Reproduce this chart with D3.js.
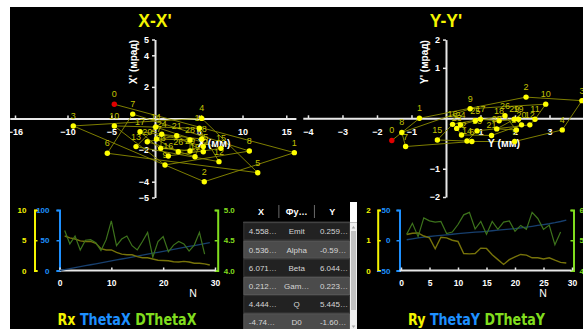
<!DOCTYPE html>
<html>
<head>
<meta charset="utf-8">
<script src="https://cdn.jsdelivr.net/npm/d3@7"></script>
<style>
  html, body { margin: 0; padding: 0; background: #fff; }
  svg { display: block; }
</style>
</head>
<body>
<svg id="chart" width="583" height="329"></svg>
<script>
// ---------- phase-plane trajectory, steps 0..29 ----------
const stepLabels = ["0","1","2","3","4","5","6","7","8","9","10","11","12","13","14",
  "15","16","17","18","19","20","21","22","23","24","25","26","27","28","29"];

// X (mm) and X' (mrad)
const xPos = [-4.65, 15.92, 5.63, -9.34, 5.34, 11.74, -5.45, -2.55, 10.78, 1.14,
  -4.65, 5.06, 7.31, -2.17, 0.08, 7.54, 1.52, -1.71, 5.34, 4.57,
  -0.88, 2.48, 5.52, 0.65, 0.77, 5.52, 2.66, 0.17, 4.00, 4.00];
const xAng = [0.90, -2.16, -4.00, -0.47, 0.01, -3.43, -2.20, 0.28, -2.06, -2.94,
  -0.47, -0.62, -2.73, -1.78, -0.54, -1.89, -2.37, -0.84, -1.30, -2.42,
  -1.47, -1.09, -2.10, -1.89, -1.00, -1.78, -2.10, -1.30, -1.36, -2.06];

// Y (mm) and Y' (mrad)
const yPos = [-1.57, -0.77, 2.32, 3.94, 3.37, 1.99, 0.75, -1.17, -1.28, 0.70,
  2.89, 2.58, 2.43, 0.90, 0.61, -0.25, 0.19, 1.00, 1.54, 2.10,
  2.19, 1.32, 0.45, 0.31, 0.42, 0.85, 1.71, 2.04, 1.47, 1.98];
const yAng = [-0.44, 0.00, 0.42, 0.35, -0.23, -0.46, -0.46, -0.56, -0.28, 0.19,
  0.28, -0.02, -0.13, -0.25, -0.45, -0.43, -0.12, -0.02, -0.05, -0.02,
  -0.13, -0.34, -0.33, -0.20, -0.13, -0.05, 0.05, -0.23, -0.21, -0.02];

// axis ticks of the phase planes
const xPlaneTicks = [-16, -10, -5, 5, 10, 15];
const xPlaneAngTicks = [5, 4, 2, -2, -4, -5];
const yPlaneTicks = [-4, -3, -2, -1, 1, 2, 3];
const yPlaneAngTicks = [1.56, 1, -1, -1.56];

// ---------- per-step parameters ----------
const rx = [5.7, 5.4, 5.2, 4.9, 4.8, 4.8, 4.5, 3.6, 3.4, 3.4, 3.0, 2.7, 2.6, 2.6, 2.3,
  2.1, 2.1, 1.9, 1.7, 1.65, 1.6, 1.45, 1.4, 1.5, 1.4, 1.2, 1.2, 1.1, 0.9];        // N = 1..29
const thetaX = [0, 1.6, 3.2, 4.8, 6.3, 7.9, 9.5, 11.1, 12.7, 14.3, 15.9, 17.4, 19.0, 20.6, 22.2,
  23.8, 25.4, 27.0, 28.6, 30.1, 31.7, 33.3, 34.9, 36.5, 38.1, 39.7, 41.3, 42.8, 44.4, 46.0]; // N = 0..29
const dThetaX = [4.66, 4.44, 4.57, 4.34, 4.50, 4.51, 4.46, 4.33, 4.51, 4.82, 4.41, 4.52, 4.57, 4.41,
  4.34, 4.48, 4.63, 4.22, 4.48, 4.56, 4.31, 4.42, 4.48, 4.44, 4.32, 4.42, 4.63, 4.27]; // N = 1..28

const ry = [1.19, 1.23, 1.24, 1.14, 1.08, 0.72, 1.10, 1.08, 1.00, 0.96, 0.56, 0.55, 0.56, 0.74, 0.73,
  0.52, 0.36, 0.20, 0.36, 0.45, 0.53, 0.51, 0.42, 0.42, 0.38, 0.42, 0.34, 0.27, 0.25];   // N = 1..29
const thetaY = [0.8, 2.3, 3.8, 5.0, 6.2, 7.2, 8.1, 9.0, 9.9, 10.8, 11.7, 12.5, 13.3, 14.0, 14.8,
  15.7, 16.6, 17.5, 18.4, 19.3, 20.5, 21.8, 23.1, 24.5, 25.9, 27.3, 29.0, 31.0, 33.3];  // N = 1..29
const dThetaY = [5.20, 5.56, 5.12, 5.74, 5.64, 5.60, 5.62, 5.22, 5.27, 5.52, 5.84, 5.92, 5.37, 5.62,
  5.20, 5.62, 5.36, 5.60, 5.64, 5.30, 5.49, 5.36, 5.92, 5.72, 5.36, 5.50, 4.85, 5.27]; // N = 1..28

const stepTicks = [0, 10, 20, 30];
const stepTicksFine = [0, 5, 10, 15, 20, 25, 30];
const rxTicks = [0, 5, 10], thetaXTicks = [0, 50, 100], dThetaXTicks = [4.0, 4.5, 5.0];
const ryTicks = [0, 1, 2], thetaYTicks = [-50, 0, 50], dThetaYTicks = [4, 5, 6];

// ---------- Twiss table ----------
const tableHeader = ["X", "Фу…", "Y"];
const tableX = ["4.558…", "0.536…", "6.071…", "0.212…", "4.444…", "-4.74…"];
const tableFn = ["Emit", "Alpha", "Beta", "Gam…", "Q", "D0"];
const tableY = ["0.259…", "-0.59…", "6.044…", "0.223…", "5.445…", "-1.60…"];

// ---------- colours ----------
const C = {
  yellow: "#f4f400", point: "#ffff00", track: "#8c8c00", label: "#c2c200", start: "#e00000",
  axis: "#e8e8e8", blue: "#1e90ff", green: "#80dd1e",
  rLine: "#77730a", tLine: "#173f6e", dLine: "#3d731c"
};
const FONT = "'Liberation Sans', Arial, sans-serif";

const svg = d3.select("#chart");
svg.append("rect").attr("x", 10).attr("y", 7).attr("width", 573).attr("height", 322).attr("fill", "#000");

function styleAxis(a, stroke, textFill, size) {
  a.attr("font-family", FONT);
  a.select(".domain").attr("stroke", stroke).attr("stroke-width", 2);
  a.selectAll(".tick line").attr("stroke", stroke).attr("stroke-width", 1.5);
  a.selectAll(".tick text").attr("fill", textFill).attr("font-weight", "bold")
    .attr("font-size", size).attr("font-family", FONT);
}

// ---------- phase plane ----------
function phasePlane(cfg) {
  const g = svg.append("g");
  const x = d3.scaleLinear().domain(cfg.xDomain).range(cfg.xRange);
  const y = d3.scaleLinear().domain(cfg.yDomain).range(cfg.yRange);
  const x0 = x(0), y0 = y(0);
  const fmt = d3.format(".0f");

  g.append("text").attr("x", x0).attr("y", 27).attr("text-anchor", "middle")
    .attr("font-family", FONT).attr("font-weight", "bold").attr("font-size", 17.5)
    .attr("fill", C.yellow).text(cfg.title);

  const xa = g.append("g").attr("transform", `translate(0,${y0})`)
    .call(d3.axisBottom(x).tickValues(cfg.xTicks).tickFormat(fmt)
      .tickSizeInner(-3).tickSizeOuter(0).tickPadding(10));
  styleAxis(xa, C.axis, "#fff", 9);
  const ya = g.append("g").attr("transform", `translate(${x0},0)`)
    .call(d3.axisLeft(y).tickValues(cfg.yTicks).tickFormat(fmt)
      .tickSizeInner(3).tickSizeOuter(0).tickPadding(3));
  styleAxis(ya, C.axis, "#fff", 9);

  g.append("text")
    .attr("transform", `translate(${x0 - 18},${cfg.yRange[1] + 0.5}) rotate(-90)`)
    .attr("text-anchor", "end").attr("font-family", FONT).attr("font-weight", "bold")
    .attr("font-size", 10).attr("fill", "#fff").text(cfg.yTitle);

  const pts = cfg.xs.map((v, i) => ({ px: x(v), py: y(cfg.ys[i]), label: stepLabels[i], i }));

  g.append("path").datum(pts)
    .attr("d", d3.line().x(d => d.px).y(d => d.py))
    .attr("fill", "none").attr("stroke", C.track).attr("stroke-width", 0.9);

  g.selectAll("text.lbl").data(pts).join("text").attr("class", "lbl")
    .attr("x", d => d.px).attr("y", d => d.py - 7).attr("text-anchor", "middle")
    .attr("font-family", FONT).attr("font-size", 9).attr("fill", C.label)
    .text(d => d.label);

  g.append("text")
    .attr("x", x0 + 0.42 * (cfg.xRange[1] - x0)).attr("y", y0 + 28.5)
    .attr("text-anchor", "middle").attr("font-family", FONT).attr("font-weight", "bold")
    .attr("font-size", 10.5).attr("fill", "#fff").text(cfg.xTitle);

  g.selectAll("circle").data(pts).join("circle")
    .attr("cx", d => d.px).attr("cy", d => d.py).attr("r", 2.7)
    .attr("fill", d => d.i === 0 ? C.start : C.point);
}

phasePlane({
  title: "X-X'", xTitle: "X (мм)", yTitle: "X' (мрад)",
  xs: xPos, ys: xAng,
  xDomain: [-16.6, 16.1], xRange: [9.75, 295.9],
  yDomain: [-5, 5], yRange: [197.5, 39.5],
  xTicks: xPlaneTicks, yTicks: xPlaneAngTicks
});
phasePlane({
  title: "Y-Y'", xTitle: "Y (мм)", yTitle: "Y' (мрад)",
  xs: yPos, ys: yAng,
  xDomain: [-4.15, 4.0], xRange: [302.8, 584],
  yDomain: [-1.56, 1.56], yRange: [197, 39.6],
  xTicks: yPlaneTicks, yTicks: yPlaneAngTicks
});

// ---------- per-step chart ----------
function stepChart(cfg) {
  const g = svg.append("g");
  const x = d3.scaleLinear().domain([0, 30]).range(cfg.xRange);
  const top = 210, bottom = 270.5;
  const yR = d3.scaleLinear().domain(cfg.rDomain).range([bottom, top]);
  const yT = d3.scaleLinear().domain(cfg.tDomain).range([bottom, top]);
  const yD = d3.scaleLinear().domain(cfg.dDomain).range([bottom, top]);

  const ra = g.append("g").attr("transform", `translate(${cfg.rAxisX},0)`)
    .call(d3.axisLeft(yR).tickValues(cfg.rTicks).tickFormat(d3.format("d"))
      .tickSizeInner(-3).tickSizeOuter(-3).tickPadding(cfg.rPad));
  styleAxis(ra, C.yellow, C.yellow, 8);

  const ta = g.append("g").attr("transform", `translate(${cfg.tAxisX},0)`)
    .call(d3.axisLeft(yT).tickValues(cfg.tTicks).tickFormat(d3.format("d"))
      .tickSizeInner(3).tickSizeOuter(3).tickPadding(cfg.tPad));
  styleAxis(ta, C.blue, C.blue, 8);

  const da = g.append("g").attr("transform", `translate(${cfg.dAxisX},0)`)
    .call(d3.axisRight(yD).tickValues(cfg.dTicks).tickFormat(d3.format(".1f"))
      .tickSizeInner(-3).tickSizeOuter(-3).tickPadding(6));
  styleAxis(da, C.green, C.green, 8);

  const xa = g.append("g").attr("transform", `translate(0,${bottom})`)
    .call(d3.axisBottom(x).tickValues(cfg.xTicks).tickFormat(d3.format("d"))
      .tickSizeInner(-3).tickSizeOuter(0).tickPadding(9));
  styleAxis(xa, C.axis, "#fff", 8.5);
  xa.select(".domain").attr("d", `M${cfg.tAxisX},0H${cfg.dAxisX - 2}`);

  g.append("text").attr("x", cfg.nX).attr("y", 297).attr("text-anchor", "middle")
    .attr("font-family", FONT).attr("font-size", 10.5).attr("fill", "#fff").text("N");

  const line = (scale, start) => d3.line().x((d, i) => x(i + start)).y(d => scale(d));
  g.append("path").datum(cfg.t).attr("d", line(yT, cfg.tStart))
    .attr("fill", "none").attr("stroke", C.tLine).attr("stroke-width", 1.3);
  g.append("path").datum(cfg.r).attr("d", line(yR, 1))
    .attr("fill", "none").attr("stroke", C.rLine).attr("stroke-width", 1.4);
  g.append("path").datum(cfg.d).attr("d", line(yD, 1))
    .attr("fill", "none").attr("stroke", C.dLine).attr("stroke-width", 1.2);

  const leg = g.append("text").attr("x", cfg.legendX).attr("y", 325)
    .attr("text-anchor", "middle").attr("font-family", "'DejaVu Sans', sans-serif")
    .attr("font-weight", "bold")
    .attr("font-size", 15).attr("textLength", cfg.legendW).attr("lengthAdjust", "spacingAndGlyphs");
  cfg.names.forEach((n, i) => {
    leg.append("tspan").attr("fill", [C.yellow, C.blue, C.green][i])
      .text(i < 2 ? n + " " : n);
  });
}

stepChart({
  xRange: [59.5, 215], xTicks: stepTicks,
  r: rx, t: thetaX, d: dThetaX, tStart: 0,
  rDomain: [0, 10], tDomain: [0, 100], dDomain: [4, 5],
  rTicks: rxTicks, tTicks: thetaXTicks, dTicks: dThetaXTicks,
  rAxisX: 34.5, tAxisX: 59.5, dAxisX: 217.7, rPad: 8, tPad: 7,
  nX: 193, legendX: 127, legendW: 139, names: ["Rx", "ThetaX", "DThetaX"]
});
stepChart({
  xRange: [401, 572], xTicks: stepTicksFine,
  r: ry, t: thetaY, d: dThetaY, tStart: 1,
  rDomain: [0, 2], tDomain: [-50, 50], dDomain: [4, 6],
  rTicks: ryTicks, tTicks: thetaYTicks, dTicks: dThetaYTicks,
  rAxisX: 377.7, tAxisX: 399.5, dAxisX: 573.5, rPad: 7, tPad: 6,
  nX: 543, legendX: 476.5, legendW: 137, names: ["Ry", "ThetaY", "DThetaY"]
});

// ---------- Twiss table ----------
(function table() {
  const g = svg.append("g").attr("font-family", FONT);
  const left = 243.3, right = 350, colW = (right - left) / 3;
  const headTop = 202, rowTop = 222.3, rowH = 18.2;
  g.append("rect").attr("x", left).attr("y", headTop).attr("width", right - left)
    .attr("height", rowTop - headTop).attr("fill", "#000");
  g.append("rect").attr("x", right).attr("y", headTop).attr("width", 7)
    .attr("height", rowTop - headTop).attr("fill", "#fff");
  tableHeader.forEach((h, i) => {
    g.append("text").attr("x", left + colW * (i + 0.5)).attr("y", 215)
      .attr("text-anchor", "middle").attr("font-weight", "bold").attr("font-size", 9)
      .attr("fill", "#fff").text(h);
    if (i > 0) g.append("line").attr("x1", left + colW * i).attr("x2", left + colW * i)
      .attr("y1", 205).attr("y2", 218).attr("stroke", "#6a6a6a");
  });
  g.append("line").attr("x1", left).attr("x2", right).attr("y1", rowTop).attr("y2", rowTop)
    .attr("stroke", "#8a8a8a");
  tableFn.forEach((fn, r) => {
    const y = rowTop + r * rowH;
    g.append("rect").attr("x", left + 0.5).attr("y", y + 0.5).attr("width", right - left - 1)
      .attr("height", rowH - 1).attr("fill", r % 2 ? "#4b4b4b" : "#222")
      .attr("stroke", r % 2 ? "#5a5a5a" : "#383838");
    const ty = y + rowH / 2 + 3;
    g.append("text").attr("x", left + 5.5).attr("y", ty).attr("font-size", 8)
      .attr("fill", "#d6d6d6").text(tableX[r]);
    g.append("text").attr("x", left + colW * 1.5).attr("y", ty).attr("text-anchor", "middle")
      .attr("font-size", 8).attr("fill", "#d6d6d6").text(fn);
    g.append("text").attr("x", left + colW * 2 + 5.5).attr("y", ty).attr("font-size", 8)
      .attr("fill", "#d6d6d6").text(tableY[r]);
  });
  // vertical scrollbar
  g.append("rect").attr("x", right).attr("y", rowTop).attr("width", 7).attr("height", 329 - rowTop)
    .attr("fill", "#f0f0f0");
  g.append("rect").attr("x", right + 1).attr("y", 231).attr("width", 5).attr("height", 79)
    .attr("fill", "#c1c1c1");
  g.append("path").attr("d", `M${right + 1.7},228.5 L${right + 3.5},226 L${right + 5.3},228.5 Z`)
    .attr("fill", "#a3a3a3");
  g.append("path").attr("d", `M${right + 1.7},325.5 L${right + 3.5},328 L${right + 5.3},325.5 Z`)
    .attr("fill", "#a3a3a3");
})();
</script>
</body>
</html>
